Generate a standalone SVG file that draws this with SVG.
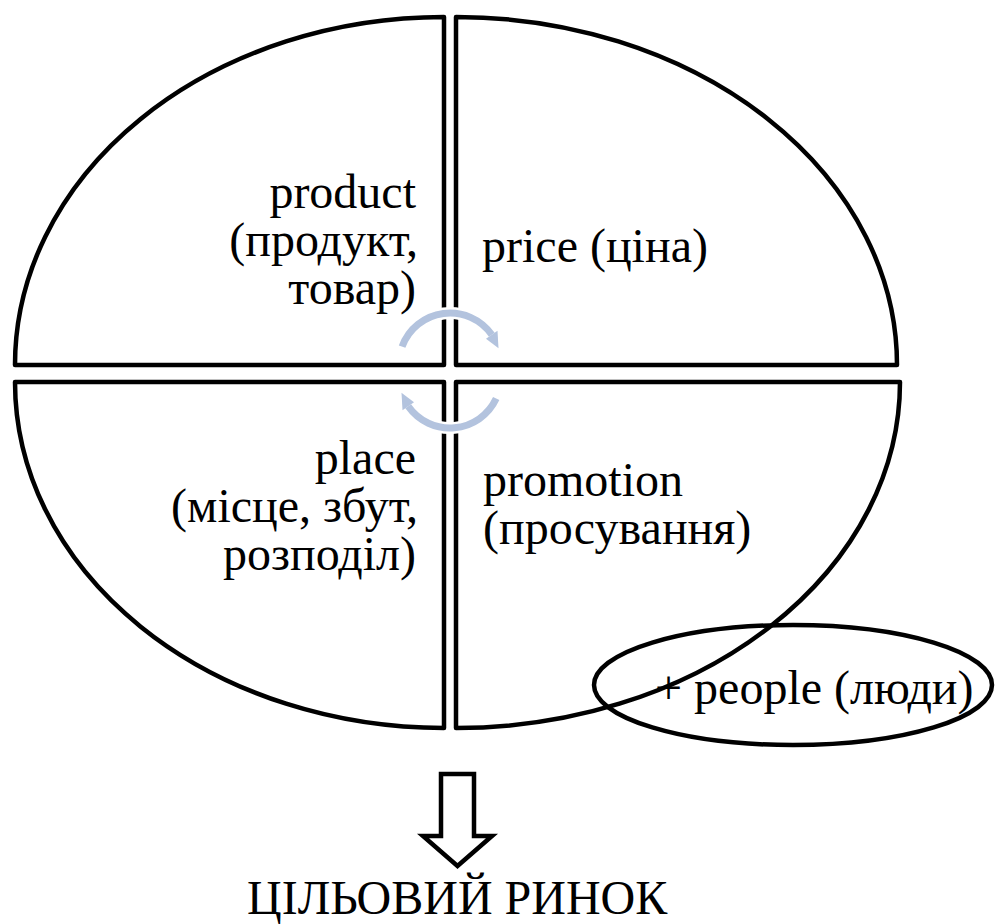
<svg xmlns="http://www.w3.org/2000/svg" width="995" height="924" viewBox="0 0 995 924">
<style>
.q{fill:#fff;stroke:#000;stroke-width:4.5;stroke-linejoin:round}
text{font-family:'Liberation Serif','Times New Roman','DejaVu Serif',serif;font-size:48px;fill:#000}
.r{text-anchor:end}
.harc{fill:none;stroke:#fff;stroke-width:12}
.hhead{fill:#fff;stroke:#fff;stroke-width:5}
.barc{fill:none;stroke:#b3c3de;stroke-width:7}
.bhead{fill:#b3c3de;stroke:none}
</style>
<g id="product">
<path class="q" d="M444,17 L444,365 L15,365 A429,348 0 0 1 444,17 Z"/>
<text class="r" x="416" y="208" font-family="Liberation Serif, serif">product</text>
<text class="r" x="418" y="256" font-family="Liberation Serif, serif">(продукт,</text>
<text class="r" x="416" y="304" font-family="Liberation Serif, serif">товар)</text>
</g>
<g id="price">
<path class="q" d="M456,17 L456,365 L897,365 A441,348 0 0 0 456,17 Z"/>
<text x="482" y="262" font-family="Liberation Serif, serif">price (ціна)</text>
</g>
<g id="place">
<path class="q" d="M444,382 L444,728 A429,346 0 0 1 15,382 Z"/>
<text class="r" x="416" y="474" font-family="Liberation Serif, serif">place</text>
<text class="r" x="418" y="522" font-family="Liberation Serif, serif">(місце, збут,</text>
<text class="r" x="416" y="570" font-family="Liberation Serif, serif">розподіл)</text>
</g>
<g id="promotion">
<path class="q" d="M456,382 L900,382 A444,346 0 0 1 456,728 Z"/>
<text x="483" y="496" font-family="Liberation Serif, serif">promotion</text>
<text x="483" y="544" font-family="Liberation Serif, serif">(просування)</text>
</g>
<g id="people">
<ellipse cx="793" cy="685" rx="199" ry="60" fill="none" stroke="#000" stroke-width="4.5"/>
<text x="655" y="704" font-family="Liberation Serif, serif">+ people (люди)</text>
</g>
<g id="connectors">
<path class="harc" d="M402.1,346.6 A51,51 0 0 1 491.8,334.8"/>
<path class="hhead" d="M497.5,330.7 L486.0,338.8 L498.5,348.2 Z"/>
<path class="harc" d="M496.2,398.6 A51,51 0 0 1 408.2,406.3"/>
<path class="hhead" d="M402.5,410.3 L414.0,402.2 L401.5,392.8 Z"/>
<path class="barc" d="M402.1,346.6 A51,51 0 0 1 491.8,334.8"/>
<path class="bhead" d="M497.5,330.7 L486.0,338.8 L498.5,348.2 Z"/>
<path class="barc" d="M496.2,398.6 A51,51 0 0 1 408.2,406.3"/>
<path class="bhead" d="M402.5,410.3 L414.0,402.2 L401.5,392.8 Z"/>
<path d="M441,774 L474,774 L474,836 L492,836 L457.5,866 L423,836 L441,836 Z" fill="#fff" stroke="#000" stroke-width="4.5" stroke-linejoin="miter"/>
</g>
<g id="target">
<text x="247" y="914" font-family="Liberation Serif, serif">ЦІЛЬОВИЙ РИНОК</text>
</g>
</svg>
